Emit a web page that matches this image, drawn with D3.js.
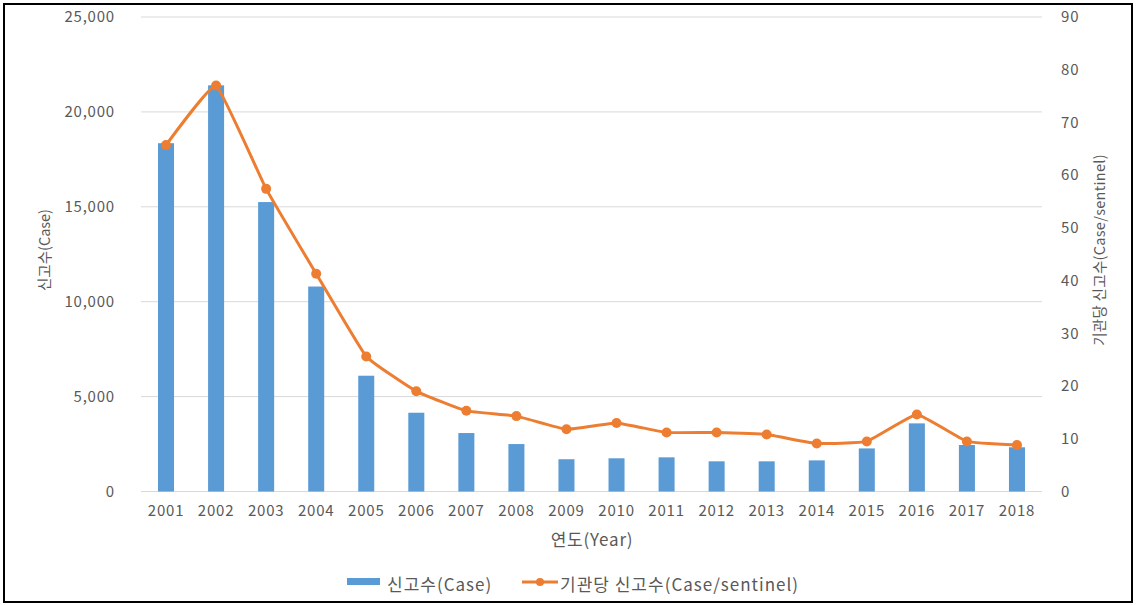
<!DOCTYPE html>
<html><head><meta charset="utf-8">
<script src="https://cdn.jsdelivr.net/npm/d3@7"></script>
<style>
body{margin:0;background:#fff;}
text{font-family:"Noto Sans CJK KR","Noto Sans",sans-serif;fill:#595959;}
</style></head>
<body><svg id="c" width="1136" height="605"></svg>
<script>
const years = ["2001","2002","2003","2004","2005","2006","2007","2008","2009","2010","2011","2012","2013","2014","2015","2016","2017","2018"];
const cases = [18350,21400,15250,10800,6100,4150,3080,2500,1700,1750,1800,1590,1590,1640,2270,3590,2450,2330];
const perSentinel = [65.7,77.0,57.4,41.3,25.6,19.0,15.3,14.3,11.8,13.0,11.2,11.2,10.8,9.1,9.5,14.6,9.5,8.8];
const leftTicks = [0,5000,10000,15000,20000,25000];
const rightTicks = [0,10,20,30,40,50,60,70,80,90];
const labels = {left:"신고수(Case)", right:"기관당 신고수(Case/sentinel)", x:"연도(Year)", bar:"신고수(Case)", line:"기관당 신고수(Case/sentinel)"};

const svg = d3.select("#c");
svg.append("rect").attr("x",4).attr("y",4).attr("width",1128).attr("height",598)
  .attr("fill","#fff").attr("stroke","#000").attr("stroke-width",2);

const L=141, R=1042, T=17, B=491.5;
const x = d3.scaleBand().domain(years).range([L,R]).paddingInner(0.68).paddingOuter(0.34);
const yL = d3.scaleLinear().domain([0,25000]).range([B,T]);
const yR = d3.scaleLinear().domain([0,90]).range([B,T]);

// grid
svg.append("g").selectAll("line").data(leftTicks).join("line")
  .attr("x1",L).attr("x2",R).attr("y1",d=>yL(d)).attr("y2",d=>yL(d))
  .attr("stroke","#d9d9d9").attr("stroke-width",1);

// axes
const fmt = d3.format(",");
const styleTicks = g => g.selectAll("text").style("font-size","15px").style("letter-spacing","0.8px").attr("fill","#595959");
const gl = svg.append("g").attr("transform",`translate(${L-23},0)`)
  .call(d3.axisLeft(yL).tickValues(leftTicks).tickFormat(fmt).tickSize(0));
gl.select(".domain").remove();
styleTicks(gl);

const gr = svg.append("g").attr("transform",`translate(${R+16},0)`)
  .call(d3.axisRight(yR).tickValues(rightTicks).tickSize(0));
gr.select(".domain").remove();
styleTicks(gr);

const gx = svg.append("g").attr("transform",`translate(0,${B+11})`)
  .call(d3.axisBottom(x).tickSize(0));
gx.select(".domain").remove();
styleTicks(gx);

// bars
svg.append("g").selectAll("rect").data(years).join("rect")
  .attr("x",d=>x(d)).attr("width",x.bandwidth())
  .attr("y",(d,i)=>yL(cases[i])).attr("height",(d,i)=>B-yL(cases[i]))
  .attr("fill","#5b9bd5");

// line
const pts = years.map((d,i)=>[x(d)+x.bandwidth()/2, yR(perSentinel[i])]);
svg.append("path").attr("d",d3.line().curve(d3.curveCardinal.tension(0.7))(pts))
  .attr("fill","none").attr("stroke","#ed7d31").attr("stroke-width",3);
svg.append("g").selectAll("circle").data(pts).join("circle")
  .attr("cx",d=>d[0]).attr("cy",d=>d[1]).attr("r",5).attr("fill","#ed7d31");

// titles
svg.append("text").attr("transform","translate(50,250) rotate(-90)").attr("text-anchor","middle")
  .style("font-size","14.5px").text(labels.left);
svg.append("text").attr("transform","translate(1105,250) rotate(-90)").attr("text-anchor","middle")
  .style("font-size","14.5px").style("letter-spacing","0.3px").text(labels.right);
svg.append("text").attr("x",592).attr("y",546).attr("text-anchor","middle")
  .style("font-size","17px").style("letter-spacing","0.8px").text(labels.x);

// legend
const lg = svg.append("g");
lg.append("rect").attr("x",347).attr("y",578).attr("width",33).attr("height",7).attr("fill","#5b9bd5");
lg.append("text").attr("x",387).attr("y",591).style("font-size","17px").style("letter-spacing","1px").text(labels.bar);
lg.append("line").attr("x1",522).attr("x2",558).attr("y1",582).attr("y2",582).attr("stroke","#ed7d31").attr("stroke-width",3);
lg.append("circle").attr("cx",540).attr("cy",582).attr("r",4).attr("fill","#ed7d31");
lg.append("text").attr("x",560).attr("y",591).style("font-size","17px").style("letter-spacing","1px").text(labels.line);
</script></body></html>
